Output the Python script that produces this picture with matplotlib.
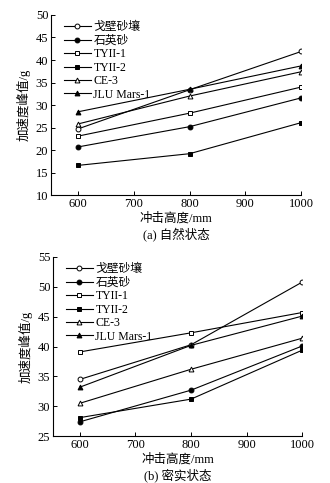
import matplotlib
matplotlib.use("Agg")
import matplotlib.pyplot as plt

plt.rcParams["font.family"] = ["Liberation Serif", "Noto Sans CJK SC"]
plt.rcParams["font.size"] = 9

heights = [600, 800, 1000]
labels = ["戈壁砂壤", "石英砂", "TYII-1", "TYII-2", "CE-3", "JLU Mars-1"]
markers = ["o", "o", "s", "s", "^", "^"]
filled = [False, True, False, True, False, True]

# (a) 自然状态
nat_gobi = [24.7, 33.4, 41.9]
nat_quartz = [20.7, 25.2, 31.6]
nat_tyii1 = [23.1, 28.2, 34.0]
nat_tyii2 = [16.6, 19.2, 26.1]
nat_ce3 = [25.8, 32.0, 37.4]
nat_jlu = [28.5, 33.5, 38.7]

# (b) 密实状态
den_gobi = [34.5, 40.3, 50.8]
den_quartz = [27.4, 32.7, 40.1]
den_tyii1 = [39.1, 42.3, 45.7]
den_tyii2 = [28.1, 31.2, 39.4]
den_ce3 = [30.5, 36.2, 41.4]
den_jlu = [33.2, 40.2, 45.1]


def draw_panel(ax, series, ylim, yticks, caption):
    for vals, lab, m, f in zip(series, labels, markers, filled):
        ax.plot(heights, vals, color="black", lw=0.8, marker=m, markersize=3.5,
                markerfacecolor="black" if f else "white", markeredgecolor="black",
                markeredgewidth=0.7, label=lab)
    ax.set_xlim(552, 1000)
    ax.set_ylim(*ylim)
    ax.set_xticks([600, 700, 800, 900, 1000])
    ax.set_yticks(yticks)
    ax.spines[["top", "right"]].set_visible(False)
    ax.tick_params(direction="in", length=3, width=0.7, labelsize=9, pad=2)
    ax.set_ylabel("加速度峰值/g", labelpad=4, fontsize=9)
    ax.set_xlabel("冲击高度/mm\n" + caption, labelpad=2, linespacing=1.25, fontsize=9)
    ax.legend(loc="upper left", bbox_to_anchor=(0.025, 1.0), frameon=False,
              handlelength=2.3, handletextpad=0.2, labelspacing=0.12,
              borderaxespad=0.15, fontsize=8.5)


fig = plt.figure(figsize=(3.3, 4.83), dpi=100)
ax1 = fig.add_axes([0.155, 0.596, 0.758, 0.373])
ax2 = fig.add_axes([0.161, 0.097, 0.755, 0.371])

draw_panel(ax1, [nat_gobi, nat_quartz, nat_tyii1, nat_tyii2, nat_ce3, nat_jlu],
           (10, 50), [10, 15, 20, 25, 30, 35, 40, 45, 50], "(a) 自然状态")
draw_panel(ax2, [den_gobi, den_quartz, den_tyii1, den_tyii2, den_ce3, den_jlu],
           (25, 55), [25, 30, 35, 40, 45, 50, 55], "(b) 密实状态")

fig.savefig("out.png", dpi=100)
